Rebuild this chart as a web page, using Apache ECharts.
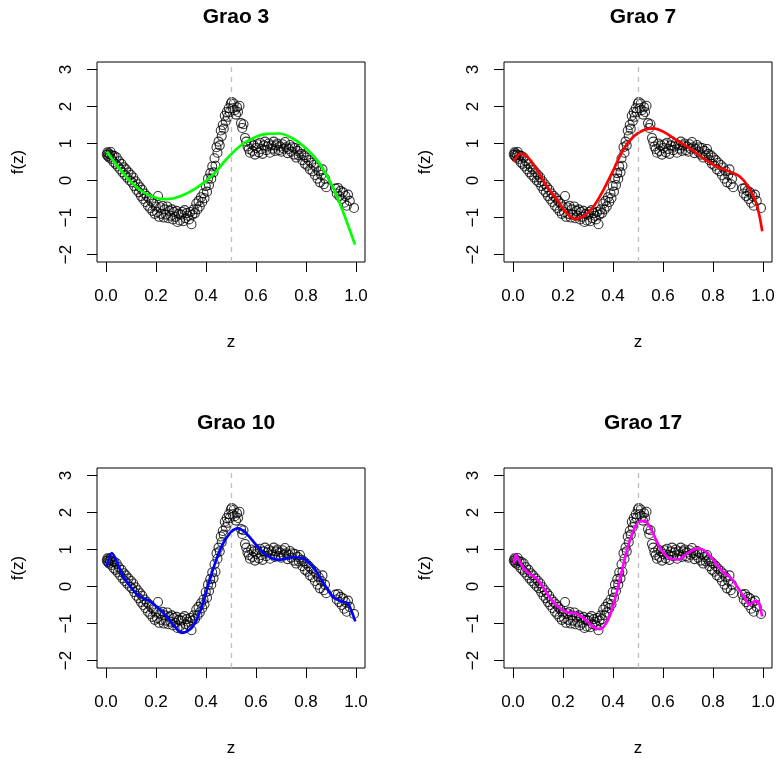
<!DOCTYPE html>
<html>
<head>
<meta charset="utf-8">
<script src="https://cdn.jsdelivr.net/npm/echarts@6/dist/echarts.min.js"></script>
<style>
html,body{margin:0;padding:0;background:#fff;}
#chart{width:779px;height:759px;}
</style>
</head>
<body>
<div id="chart"></div>
<script>
// ---- data ----
const zPts = [
0.003,0.006,0.008,0.010,0.013,0.016,0.019,0.022,0.026,0.030,0.034,0.038,0.043,0.047,0.052,0.057,0.062,0.066,0.071,0.075,0.080,0.085,0.090,0.095,0.100,
0.104,0.109,0.113,0.118,0.122,0.127,0.131,0.136,0.140,0.145,0.149,0.154,0.158,0.163,0.168,0.172,0.177,0.181,0.186,0.190,0.195,0.199,
0.204,0.208,0.212,0.217,0.221,0.226,0.231,0.235,0.240,0.245,0.249,0.254,0.258,0.263,0.268,0.272,0.277,0.282,0.286,0.291,0.295,0.300,0.305,0.309,0.314,0.318,0.323,0.328,0.332,0.337,0.342,0.346,0.351,
0.356,0.361,0.366,0.370,0.375,0.380,0.385,0.390,0.394,0.399,0.404,0.408,0.412,0.417,0.421,0.425,0.430,0.434,0.438,0.442,0.446,0.450,0.455,0.459,0.463,0.467,0.471,0.475,0.479,0.483,0.487,0.491,0.495,0.499,
0.503,0.507,0.511,0.515,0.520,0.524,0.528,0.534,0.540,0.545,0.550,0.556,0.561,0.566,0.571,0.576,0.581,0.586,0.591,0.596,0.601,0.606,0.611,0.616,0.621,0.626,0.631,0.636,0.641,0.646,0.651,0.656,0.661,0.666,0.671,0.676,0.681,0.686,0.691,0.696,0.701,0.706,0.711,0.716,0.721,0.726,0.731,0.736,0.741,0.746,0.751,0.756,0.761,0.766,0.771,0.776,
0.781,0.786,0.791,0.796,0.801,0.806,0.811,0.816,0.821,0.826,0.831,0.836,0.841,0.846,0.851,0.856,0.861,0.866,0.871,0.876,0.881,
0.918,0.923,0.928,0.933,0.938,0.943,0.948,0.953,0.958,0.963,0.968,0.975,0.992];
const fPts = [
0.70,0.76,0.66,0.73,0.62,0.70,0.77,0.58,0.68,0.50,0.66,0.45,0.62,0.38,0.52,0.30,0.45,0.22,0.36,0.15,0.30,0.08,0.22,0.00,0.15,
-0.05,0.08,-0.15,-0.02,-0.25,-0.10,-0.32,-0.18,-0.42,-0.25,-0.50,-0.35,-0.58,-0.42,-0.68,-0.48,-0.75,-0.55,-0.82,-0.62,-0.90,-0.70,
-0.85,-0.42,-0.98,-0.72,-0.90,-0.68,-1.00,-0.78,-0.92,-0.70,-1.02,-0.82,-0.95,-0.78,-1.05,-0.85,-0.98,-0.82,-1.12,-0.90,-1.08,-0.92,-0.85,-1.10,-0.80,-1.02,-0.88,-0.95,-1.05,-0.85,-1.18,-0.92,-0.78,
-0.88,-0.62,-0.78,-0.55,-0.70,-0.45,-0.58,-0.35,-0.48,-0.15,-0.30,0.05,-0.12,0.20,0.05,0.38,0.22,0.60,0.40,0.90,0.75,1.05,0.95,1.35,1.20,1.50,1.40,1.75,1.60,1.85,1.72,1.95,1.85,2.08,
2.12,1.95,2.08,1.90,1.78,1.98,1.85,2.02,1.55,1.42,1.52,1.15,1.05,0.92,0.85,0.75,1.00,0.80,0.95,0.70,0.88,0.98,0.76,1.02,0.85,0.72,0.95,1.05,0.82,0.92,1.00,0.75,0.95,0.86,1.05,0.80,0.95,1.00,0.82,0.92,0.78,0.98,0.86,1.04,0.90,0.74,0.85,0.96,0.78,0.90,0.70,0.88,0.62,0.80,0.68,0.85,
0.72,0.55,0.68,0.45,0.62,0.40,0.55,0.30,0.48,0.25,0.42,0.15,0.35,0.05,0.25,-0.05,0.15,0.30,-0.10,0.05,-0.18,
-0.22,-0.35,-0.20,-0.42,-0.28,-0.50,-0.32,-0.60,-0.42,-0.68,-0.38,-0.55,-0.74];

const fit3Z = [0.003,0.069,0.135,0.202,0.242,0.295,0.361,0.428,0.48,0.534,0.587,0.64,0.693,0.746,0.8,0.853,0.906,0.945,0.996];
const fit3F = [0.78,0.2,-0.25,-0.47,-0.5,-0.43,-0.205,0.15,0.56,0.92,1.14,1.26,1.27,1.14,0.87,0.47,-0.16,-0.79,-1.73];
const fit7Z = [0.003,0.029,0.056,0.096,0.136,0.176,0.215,0.249,0.282,0.322,0.362,0.402,0.441,0.481,0.521,0.561,0.601,0.654,0.707,0.761,0.814,0.867,0.907,0.94,0.973,0.997];
const fit7F = [0.51,0.72,0.65,0.29,-0.16,-0.52,-0.88,-1.04,-0.97,-0.70,-0.25,0.29,0.83,1.18,1.36,1.41,1.32,1.09,0.87,0.60,0.38,0.24,0.11,-0.16,-0.61,-1.37];
const fit10Z = [0.003,0.023,0.043,0.069,0.102,0.136,0.176,0.209,0.242,0.275,0.302,0.335,0.362,0.388,0.415,0.441,0.468,0.501,0.528,0.561,0.601,0.641,0.694,0.747,0.787,0.827,0.867,0.907,0.94,0.967,0.98,0.997];
const fit10F = [0.54,0.9,0.67,0.27,-0.04,-0.27,-0.4,-0.58,-0.81,-1.08,-1.25,-1.16,-0.9,-0.45,0.18,0.72,1.16,1.48,1.57,1.43,1.12,0.85,0.72,0.79,0.76,0.54,0.13,-0.27,-0.4,-0.45,-0.63,-0.94];
const fit17Z = [0.003,0.011,0.027,0.047,0.073,0.1,0.127,0.153,0.187,0.22,0.253,0.287,0.32,0.347,0.373,0.4,0.427,0.453,0.48,0.507,0.527,0.547,0.567,0.593,0.627,0.66,0.7,0.74,0.773,0.807,0.84,0.873,0.9,0.927,0.947,0.967,0.98,0.989,0.997];
const fit17F = [0.62,0.85,0.67,0.45,0.31,0.18,-0.09,-0.36,-0.58,-0.7,-0.73,-0.88,-1.08,-1.15,-0.99,-0.54,0.18,0.9,1.48,1.75,1.77,1.61,1.34,0.99,0.76,0.73,0.9,1.03,0.94,0.67,0.4,0.22,-0.04,-0.31,-0.49,-0.4,-0.4,-0.58,-0.81];

const panelTitles = ['Grao 3','Grao 7','Grao 10','Grao 17'];
const xTicks = [0,0.2,0.4,0.6,0.8,1.0];
const yTicks = [-2,-1,0,1,2,3];
const cutPoint = 0.5;
const xLabel = 'z';
const yLabel = 'f(z)';

// ---- styles / layout ----
const FONT = '"Liberation Sans", Arial, Helvetica, sans-serif';
const fits = [[fit3Z,fit3F],[fit7Z,fit7F],[fit10Z,fit10F],[fit17Z,fit17F]];
const fitColors = ['#00ff00','#ff0000','#0000ff','#ff00ff'];
const grids = [
  {left:97, top:62, width:268, height:200},
  {left:504, top:62, width:268, height:200},
  {left:97, top:468, width:268, height:200},
  {left:504, top:468, width:268, height:200}
];
const pairs = (a,b) => a.map((v,i)=>[v,b[i]]);
const scatterData = pairs(zPts, fPts);

const option = {
  animation: false,
  backgroundColor: '#fff',
  title: grids.map((g,i)=>({
    text: panelTitles[i],
    left: g.left + g.width/2,
    textAlign: 'center',
    top: g.top - 60,
    textStyle: {fontFamily: FONT, fontWeight: 'bold', fontSize: 21, color: '#000'}
  })),
  grid: grids.map(g=>Object.assign({show:true, borderColor:'#000', borderWidth:1, backgroundColor:'transparent', containLabel:false}, g)),
  xAxis: grids.map((g,i)=>({
    type:'value', gridIndex:i, min:-0.036, max:1.036,
    axisLine:{show:false, onZero:false},
    splitLine:{show:false},
    axisTick:{show:true, length:10, lineStyle:{color:'#000', width:1}, customValues: xTicks},
    axisLabel:{show:true, customValues: xTicks, margin:26, fontFamily: FONT, fontSize:17, color:'#000',
      formatter: v => v.toFixed(1)},
    name: xLabel, nameLocation:'middle', nameGap:72,
    nameTextStyle:{fontFamily: FONT, fontSize:17, color:'#000'}
  })),
  yAxis: grids.map((g,i)=>({
    type:'value', gridIndex:i, min:-2.2, max:3.2,
    axisLine:{show:false, onZero:false},
    splitLine:{show:false},
    axisTick:{show:true, length:10, lineStyle:{color:'#000', width:1}, customValues: yTicks},
    axisLabel:{show:true, customValues: yTicks, rotate:90, margin:22, fontFamily: FONT, fontSize:17, color:'#000',
      formatter: v => String(v).replace('-', '\u2212')},
    name: yLabel, nameLocation:'middle', nameGap:70, nameRotate:90,
    nameTextStyle:{fontFamily: FONT, fontSize:17, color:'#000'}
  })),
  series: [
    ...grids.map((g,i)=>({
      type:'scatter', xAxisIndex:i, yAxisIndex:i, data: scatterData,
      symbol:'circle', symbolSize:9,
      itemStyle:{color:'rgba(0,0,0,0)', borderColor:'#000', borderWidth:1.1},
      emphasis:{disabled:true}, silent:true,
      markLine:{silent:true, symbol:'none', label:{show:false},
        lineStyle:{color:'#bebebe', type:[5,5], width:1.3},
        data:[{xAxis: cutPoint}]}
    })),
    ...grids.map((g,i)=>({
      type:'line', xAxisIndex:i, yAxisIndex:i, data: pairs(fits[i][0], fits[i][1]),
      showSymbol:false, symbol:'none', smooth:0.35,
      lineStyle:{color: fitColors[i], width:2.7},
      emphasis:{disabled:true}, silent:true
    }))
  ]
};
const chart = echarts.init(document.getElementById('chart'), null, {renderer:'canvas'});
chart.setOption(option);
</script>
</body>
</html>
